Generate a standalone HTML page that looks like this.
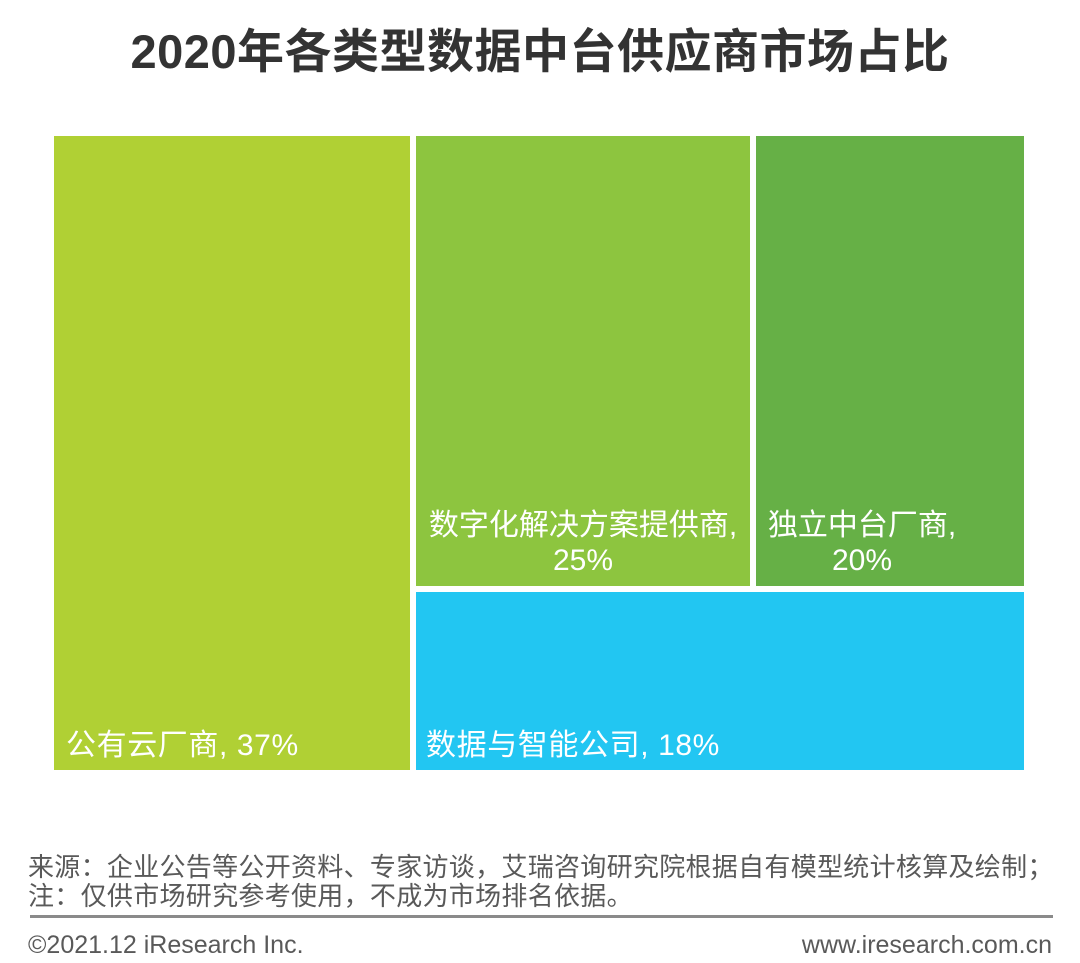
<!DOCTYPE html>
<html><head><meta charset="utf-8"><style>
body{margin:0;width:1080px;height:963px;background:#fff;position:relative;overflow:hidden;font-family:"Liberation Sans","Noto Sans CJK SC",sans-serif}
.a{position:absolute}
.r{position:absolute;color:#fff;font-size:30px;line-height:35px;white-space:nowrap}
.f{position:absolute;color:#595959;font-size:25px;white-space:nowrap}
</style></head><body>
<div class="a" style="left:0;width:1080px;top:13px;text-align:center;font-size:47px;font-weight:bold;color:#333;letter-spacing:0.5px">2020年各类型数据中台供应商市场占比</div>
<div class="a" style="left:54px;top:136px;width:356px;height:634px;background:#b0d034"></div>
<div class="a" style="left:416px;top:136px;width:334px;height:450px;background:#8dc53f"></div>
<div class="a" style="left:756px;top:136px;width:268px;height:450px;background:#66b046"></div>
<div class="a" style="left:416px;top:592px;width:608px;height:178px;background:#22c6f2"></div>
<div class="r" style="left:66px;top:728px;letter-spacing:0.6px">公有云厂商, 37%</div>
<div class="r" style="left:416px;width:334px;top:508px;text-align:center">数字化解决方案提供商,<br>25%</div>
<div class="r" style="left:756px;top:508px;width:212px;text-align:center">独立中台厂商,<br>20%</div>
<div class="r" style="left:426px;top:728px;letter-spacing:0.6px">数据与智能公司, 18%</div>
<div class="f" style="left:28px;top:847px;font-size:26px;letter-spacing:0.3px">来源：企业公告等公开资料、专家访谈，艾瑞咨询研究院根据自有模型统计核算及绘制；</div>
<div class="f" style="left:28px;top:876px;font-size:26px;letter-spacing:0.3px">注：仅供市场研究参考使用，不成为市场排名依据。</div>
<div class="a" style="left:30px;top:915px;width:1023px;height:3px;background:#8a8a8a"></div>
<div class="f" style="left:28px;top:931px">©2021.12 iResearch Inc.</div>
<div class="f" style="right:28px;top:931px">www.iresearch.com.cn</div>
</body></html>
